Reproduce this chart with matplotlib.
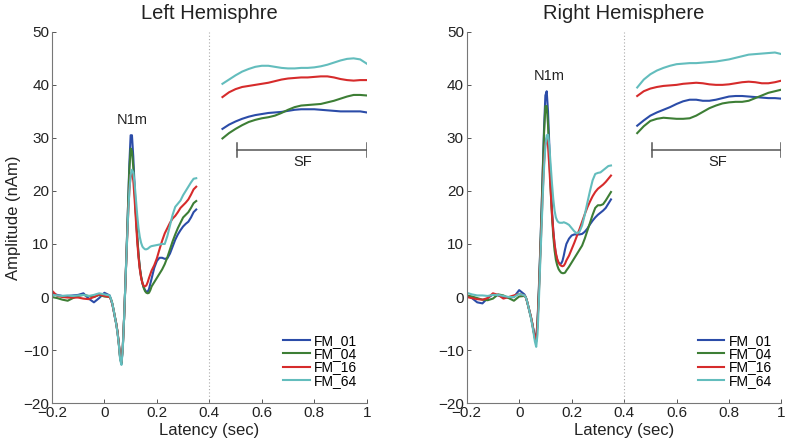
import matplotlib
matplotlib.use("Agg")
import matplotlib.pyplot as plt
import numpy as np

# GLOBALS
OUT_FILE = "out.png"
LABELS = ["FM_01", "FM_04", "FM_16", "FM_64"]
COLORS = ["#2b4ca8", "#3d7e35", "#d62b2b", "#63bdbd"]

# time axes (sec): baseline, response, tail, sustained field
T_BASE = np.round(np.arange(-0.20, 0.021, 0.02), 3)
T_MID = np.round(np.arange(0.025, 0.1801, 0.005), 3)
T_TAIL = np.round(np.arange(0.19, 0.3501, 0.01), 3)
T_LATE = np.round(np.arange(0.45, 1.0001, 0.025), 3)

# Left hemisphere (nAm)
L_BASE = {
    "FM_01": [0.7, 0.4, 0.2, 0.2, 0.3, 0.4, 0.7, -0.3, -1.0, -0.2, 0.8, 0.3],
    "FM_04": [0.0, -0.2, -0.5, -0.7, -0.2, 0.2, 0.4, 0.2, 0.0, 0.4, 0.1, 0.0],
    "FM_16": [1.2, 0.2, 0.0, -0.1, -0.1, -0.1, -0.3, -0.4, 0.0, 0.5, 0.2, 0.0],
    "FM_64": [0.4, 0.3, 0.2, 0.3, 0.2, 0.3, 0.4, 0.2, 0.4, 0.7, 0.5, 0.3],
}
L_MID = {
    "FM_01": [-0.5, -1.3, -2.5, -3.8, -5.0, -6.6, -8.8, -11.5, -12.6, -9.5,
              -4.0, 2.5, 9.5, 17.0, 25.0, 30.5, 30.5, 26.5, 21.0, 16.0,
              11.5, 8.0, 5.5, 3.8, 2.6, 1.8, 1.3, 1.0, 1.0, 1.5, 2.5, 3.5],
    "FM_04": [-0.4, -1.2, -2.4, -3.7, -5.0, -6.6, -8.8, -11.5, -12.5, -9.5,
              -4.0, 2.5, 9.5, 17.0, 24.0, 28.0, 27.5, 24.5, 20.0, 15.5,
              11.5, 8.0, 5.5, 3.8, 2.6, 1.7, 1.1, 0.8, 0.7, 0.8, 1.3, 2.0],
    "FM_16": [-0.5, -1.3, -2.5, -3.8, -5.0, -6.6, -8.8, -11.3, -12.3, -9.5,
              -4.0, 2.5, 9.0, 15.0, 20.0, 23.0, 23.5, 22.0, 18.5, 14.5,
              10.5, 7.5, 5.2, 3.6, 2.6, 2.1, 2.0, 2.2, 2.8, 3.6, 4.3, 5.0],
    "FM_64": [-0.4, -1.2, -2.4, -3.8, -5.1, -6.8, -9.0, -11.8, -12.8, -9.8,
              -4.0, 2.5, 9.0, 15.0, 20.0, 23.0, 24.0, 23.5, 21.5, 18.5,
              15.5, 13.0, 11.3, 10.2, 9.5, 9.2, 9.0, 9.0, 9.1, 9.3, 9.5, 9.6],
}
L_TAIL = {
    "FM_01": [5.5, 6.8, 7.4, 7.4, 7.2, 7.3, 8.2, 9.5, 10.8, 11.8, 12.6, 13.3,
              13.8, 14.2, 15.0, 16.0, 16.5],
    "FM_04": [2.8, 3.6, 4.4, 5.2, 6.2, 7.5, 9.0, 10.5, 11.8, 13.0, 14.0, 15.0,
              15.5, 16.0, 16.8, 17.7, 18.1],
    "FM_16": [6.0, 7.3, 9.0, 10.6, 12.0, 13.0, 14.0, 14.8, 15.3, 16.0, 16.8,
              17.3, 17.8, 18.4, 19.3, 20.3, 20.8],
    "FM_64": [9.7, 9.8, 9.9, 10.0, 10.0, 11.5, 13.5, 15.5, 17.0, 17.6, 18.2,
              19.2, 20.0, 20.8, 21.6, 22.3, 22.4],
}
L_LATE = {
    "FM_01": [31.7, 32.5, 33.1, 33.6, 34.0, 34.3, 34.5, 34.7, 34.8, 34.9, 35.1,
              35.3, 35.4, 35.4, 35.4, 35.3, 35.2, 35.1, 35.0, 35.0, 35.0, 35.0,
              34.8],
    "FM_04": [29.9, 30.9, 31.7, 32.4, 33.0, 33.4, 33.7, 33.9, 34.2, 34.7, 35.3,
              35.8, 36.1, 36.2, 36.3, 36.4, 36.7, 37.0, 37.4, 37.8, 38.1, 38.1,
              38.0],
    "FM_16": [37.7, 38.6, 39.2, 39.6, 39.8, 40.0, 40.2, 40.4, 40.7, 41.0, 41.2,
              41.3, 41.4, 41.4, 41.5, 41.6, 41.6, 41.4, 41.1, 40.9, 40.8, 40.9,
              40.9],
    "FM_64": [40.2, 41.0, 41.8, 42.5, 43.0, 43.4, 43.6, 43.6, 43.4, 43.2, 43.1,
              43.1, 43.2, 43.2, 43.3, 43.5, 43.8, 44.2, 44.6, 44.9, 45.0, 44.8,
              44.0],
}

# Right hemisphere (nAm)
R_BASE = {
    "FM_01": [0.3, -0.2, -1.0, -1.2, -0.2, 0.5, 0.3, 0.0, -0.1, 0.0, 1.3, 0.5],
    "FM_04": [0.3, 0.1, -0.2, -0.5, -0.6, -0.3, 0.5, 0.3, -0.2, -0.7, 0.1, 0.2],
    "FM_16": [0.0, -0.2, -0.4, -0.5, -0.2, 0.7, 0.4, -0.3, 0.0, 0.3, 0.6, 0.3],
    "FM_64": [0.8, 0.5, 0.3, 0.3, 0.2, 0.4, 0.4, 0.2, 0.0, 0.0, 0.6, 0.3],
}
R_MID = {
    "FM_01": [0.0, -0.8, -1.8, -2.8, -3.8, -5.0, -6.3, -7.4, -7.8, -4.5,
              1.5, 8.5, 16.0, 24.0, 32.0, 38.0, 38.8, 35.0, 28.5, 22.0,
              16.5, 12.5, 9.8, 8.0, 7.0, 6.5, 6.3, 6.3, 6.8, 7.8, 9.0, 10.0],
    "FM_04": [0.0, -0.8, -1.8, -2.8, -3.8, -5.0, -6.5, -7.8, -8.4, -5.0,
              1.0, 8.0, 15.5, 23.5, 31.0, 36.0, 36.0, 32.5, 26.5, 20.5,
              15.5, 11.5, 8.8, 7.0, 6.0, 5.3, 4.9, 4.6, 4.5, 4.5, 4.6, 5.0],
    "FM_16": [0.0, -0.8, -1.8, -2.8, -3.8, -5.0, -6.4, -7.6, -8.1, -5.0,
              0.5, 7.0, 13.5, 20.0, 25.5, 29.0, 30.0, 28.5, 24.5, 20.0,
              15.8, 12.5, 10.0, 8.3, 7.2, 6.5, 6.1, 5.9, 5.8, 5.9, 6.3, 6.9],
    "FM_64": [0.0, -0.8, -1.8, -2.9, -4.0, -5.3, -6.8, -8.4, -9.4, -7.0,
              -1.0, 6.0, 12.5, 19.0, 24.5, 28.5, 30.5, 30.6, 28.5, 25.0,
              21.5, 18.5, 16.3, 15.0, 14.4, 14.1, 14.0, 14.0, 14.0, 14.1,
              14.0, 13.9],
}
R_TAIL = {
    "FM_01": [11.0, 11.6, 11.8, 11.8, 11.8, 11.9, 12.3, 12.9, 13.7, 14.4, 15.0,
              15.5, 15.9, 16.3, 16.8, 17.6, 18.4],
    "FM_04": [5.7, 6.5, 7.3, 8.1, 8.9, 9.7, 11.0, 12.5, 14.0, 15.5, 16.8, 17.3,
              17.3, 17.5, 18.2, 19.0, 19.8],
    "FM_16": [7.8, 9.0, 10.2, 11.5, 12.8, 14.2, 15.6, 16.9, 18.0, 19.0, 19.8,
              20.4, 20.8, 21.2, 21.7, 22.3, 22.9],
    "FM_64": [13.6, 13.0, 12.4, 12.0, 12.3, 13.5, 15.5, 17.8, 20.0, 22.0, 23.2,
              23.4, 23.5, 23.9, 24.3, 24.7, 24.8],
}
R_LATE = {
    "FM_01": [32.3, 33.3, 34.2, 34.8, 35.3, 35.8, 36.4, 36.9, 37.2, 37.2, 37.0,
              37.0, 37.2, 37.5, 37.8, 37.9, 37.9, 37.8, 37.7, 37.6, 37.5, 37.5,
              37.4],
    "FM_04": [30.9, 32.2, 33.2, 33.6, 33.8, 33.7, 33.6, 33.6, 33.7, 34.2, 34.9,
              35.6, 36.1, 36.5, 36.7, 36.8, 36.8, 37.0, 37.5, 38.0, 38.5, 38.8,
              39.1],
    "FM_16": [37.9, 38.8, 39.3, 39.6, 39.8, 39.9, 40.0, 40.2, 40.3, 40.4, 40.3,
              40.1, 40.0, 40.0, 40.1, 40.3, 40.5, 40.6, 40.5, 40.3, 40.3, 40.5,
              40.8],
    "FM_64": [39.5, 41.0, 42.0, 42.7, 43.2, 43.6, 43.9, 44.0, 44.1, 44.1, 44.2,
              44.3, 44.4, 44.6, 44.8, 45.1, 45.4, 45.7, 45.8, 45.9, 46.0, 46.1,
              45.8],
}

X_TICKS = [-0.2, 0, 0.2, 0.4, 0.6, 0.8, 1]
X_TICKLABELS = ["\u22120.2", "0", "0.2", "0.4", "0.6", "0.8", "1"]
Y_TICKS = [-20, -10, 0, 10, 20, 30, 40, 50]
Y_TICKLABELS = ["\u221220", "\u221210", "0", "10", "20", "30", "40", "50"]

# annotations: (x, y) in data units
SF_SPAN = (0.505, 1.0)
SF_LEVEL = 27.7
N1M_POS = {"left": (0.105, 33.3), "right": (0.113, 41.6)}


def panel(ax, base, mid, tail, late, title, n1m_pos, ylabel=False):
    t_early = np.concatenate([T_BASE, T_MID, T_TAIL])
    for lab, col in zip(LABELS, COLORS):
        y_early = np.concatenate([base[lab], mid[lab], tail[lab]])
        ax.plot(t_early, y_early, color=col, lw=1.5, label=lab)
        ax.plot(T_LATE, late[lab], color=col, lw=1.5)

    ax.axvline(0.4, color="#aaaaaa", lw=0.8, ls=(0, (1, 2)))

    # sustained field bracket
    ax.plot(SF_SPAN, [SF_LEVEL, SF_LEVEL], color="#555555", lw=1.1)
    for xe in SF_SPAN:
        ax.plot([xe, xe], [SF_LEVEL - 1.3, SF_LEVEL + 1.3], color="#555555", lw=1.1)
    ax.text(np.mean(SF_SPAN) + 0.005, SF_LEVEL - 2.2, "SF", ha="center", va="center",
            fontsize=10.5, color="#222222")
    ax.text(n1m_pos[0], n1m_pos[1], "N1m", ha="center", va="center",
            fontsize=10.5, color="#222222")

    ax.set_xlim(-0.2, 1)
    ax.set_ylim(-20, 50)
    ax.set_xticks(X_TICKS)
    ax.set_xticklabels(X_TICKLABELS)
    ax.set_yticks(Y_TICKS)
    ax.set_yticklabels(Y_TICKLABELS)
    ax.tick_params(direction="in", length=3, width=0.7, colors="#555555",
                   labelcolor="#222222", labelsize=11, pad=2)
    for side in ["top", "right"]:
        ax.spines[side].set_visible(False)
    for side in ["left", "bottom"]:
        ax.spines[side].set_color("#777777")
        ax.spines[side].set_linewidth(0.8)

    ax.set_title(title, fontsize=14.5, color="#222222", pad=9)
    ax.set_xlabel("Latency (sec)", fontsize=12, color="#222222", labelpad=2)
    if ylabel:
        ax.set_ylabel("Amplitude (nAm)", fontsize=12, color="#222222", labelpad=2)

    ax.legend(loc="lower right", frameon=False, fontsize=10, handlelength=1.9,
              handletextpad=0.3, labelspacing=-0.05, borderaxespad=0.3,
              bbox_to_anchor=(1.0, 0.015))


def main():
    plt.rcParams["font.family"] = ["Liberation Sans", "DejaVu Sans"]
    fig = plt.figure(figsize=(7.87, 4.42), dpi=100)
    ax_l = fig.add_axes([0.066, 0.088, 0.400, 0.840])
    ax_r = fig.add_axes([0.593, 0.088, 0.400, 0.840])

    panel(ax_l, L_BASE, L_MID, L_TAIL, L_LATE, "Left Hemisphre",
          N1M_POS["left"], ylabel=True)
    panel(ax_r, R_BASE, R_MID, R_TAIL, R_LATE, "Right Hemisphere",
          N1M_POS["right"])

    fig.savefig(OUT_FILE, dpi=100)


if __name__ == "__main__":
    main()
